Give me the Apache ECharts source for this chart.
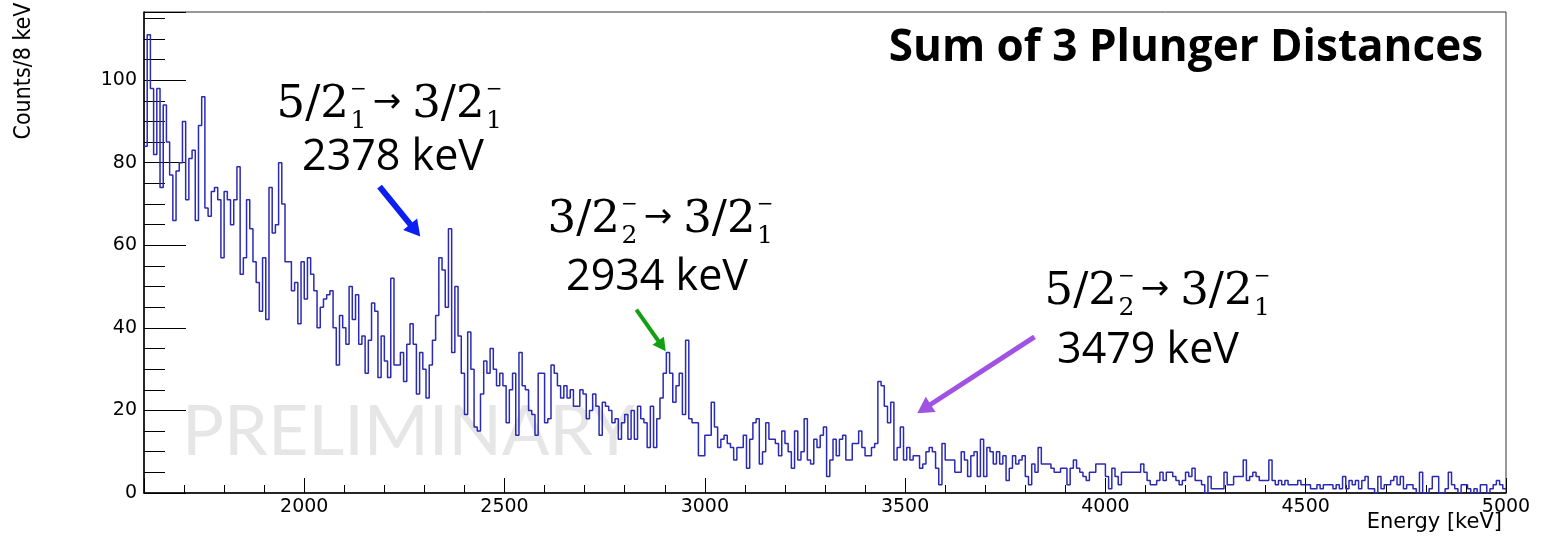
<!DOCTYPE html>
<html>
<head>
<meta charset="utf-8">
<title>Sum of 3 Plunger Distances</title>
<script src="https://cdn.jsdelivr.net/npm/echarts@6/dist/echarts.min.js"></script>
<style>
  html, body { margin: 0; padding: 0; background: #fff; }
  #chart { width: 1542px; height: 536px; }
</style>
</head>
<body>
<div id="chart"></div>
<script>
// Histogram binning (keV)
var binStart = 1600;
var binWidth = 8;
var energyMax = 5000;
var countsMax = 116.5;

// Counts/8 keV, one value per bin from 1600 keV up to 5000 keV
var counts = [
  84, 111, 98, 82, 98, 74, 94, 85, 77, 66,
  78, 80, 90, 71, 81, 83, 66, 89, 96, 69,
  67, 73, 74, 71, 57, 73, 71, 65, 71, 79,
  53, 57, 71, 64, 56, 51, 44, 57, 42, 74,
  63, 65, 80, 70, 56, 56, 49, 51, 41, 56,
  47, 57, 53, 49, 40, 45, 47, 48, 49, 40,
  31, 43, 40, 36, 50, 42, 48, 36, 38, 29,
  37, 46, 44, 28, 38, 32, 28, 52, 31, 31,
  34, 27, 36, 41, 36, 24, 34, 30, 23, 31,
  37, 43, 57, 54, 45, 64, 34, 50, 38, 29,
  19, 39, 30, 16, 15, 24, 32, 29, 35, 30,
  26, 29, 26, 17, 25, 29, 14, 34, 26, 25,
  20, 19, 14, 29, 29, 17, 18, 31, 29, 26,
  23, 26, 23, 25, 21, 21, 25, 24, 18, 20,
  24, 21, 14, 22, 21, 20, 17, 18, 13, 17,
  19, 13, 20, 13, 21, 18, 17, 11, 21, 11,
  18, 23, 29, 34, 29, 22, 26, 29, 19, 37,
  18, 17, 17, 9, 9, 14, 14, 22, 16, 11,
  13, 14, 12, 11, 8, 11, 11, 14, 6, 13,
  17, 18, 7, 10, 17, 13, 13, 12, 9, 15,
  12, 10, 6, 15, 8, 10, 18, 8, 7, 13,
  11, 14, 16, 4, 8, 13, 9, 13, 14, 8,
  8, 12, 12, 15, 11, 9, 9, 11, 12, 27,
  26, 21, 17, 22, 8, 11, 16, 8, 11, 8,
  9, 9, 6, 7, 10, 11, 10, 6, 2, 12,
  8, 8, 8, 5, 5, 10, 8, 4, 9, 10,
  4, 13, 4, 11, 10, 7, 10, 7, 9, 3,
  6, 9, 7, 8, 9, 4, 2, 7, 5, 11,
  7, 7, 7, 6, 5, 5, 6, 6, 2, 6,
  8, 6, 5, 4, 3, 5, 5, 7, 7, 7,
  4, 1, 6, 4, 2, 5, 5, 5, 5, 5,
  5, 7, 5, 3, 2, 2, 3, 5, 3, 5,
  5, 4, 3, 2, 3, 5, 4, 6, 3, 3,
  2, 0, 4, 1, 1, 1, 1, 5, 2, 2,
  4, 4, 4, 8, 3, 4, 5, 4, 3, 3,
  3, 8, 3, 2, 3, 2, 3, 2, 2, 2,
  3, 2, 2, 2, 1, 1, 2, 1, 2, 2,
  2, 1, 2, 1, 4, 1, 3, 2, 3, 1,
  3, 4, 1, 1, 0, 4, 1, 2, 2, 3,
  4, 2, 4, 1, 2, 2, 1, 0, 5, 0,
  0, 1, 4, 4, 0, 0, 1, 5, 2, 1,
  0, 2, 2, 1, 0, 1, 0, 2, 2, 0,
  1, 2, 3, 2, 1
];

// Tick steps
var xMinorStep = 100;
var xMajorStep = 500;
var yMinorStep = 5;
var yMajorStep = 20;

// Transition labels (initial state, subscript) -> (final state, subscript)
var transInitial = [['5/2', '1'], ['3/2', '2'], ['5/2', '2']];
var transFinal = [['3/2', '1'], ['3/2', '1'], ['3/2', '1']];
var transEnergy = ['2378 keV', '2934 keV', '3479 keV'];

// Arrows pointing at the peaks, in data coordinates [keV, counts]
var arrowTails = [[2188, 74.2], [2829, 44.4], [3823, 37.8]];
var arrowHeads = [[2277, 63.6], [2893, 35.6], [3547, 20.4]];
var arrowColors = ['#0b1ff2', '#12a012', '#a052e2'];

// ---- layout (pixels) ----
var formulaAnchors = [[390, 120], [661, 235], [1158, 307]];   // centre x, baseline y
var energyAnchors = [[393, 158], [657, 278], [1148, 351]];    // centre x, middle y
var arrowWidths = [6, 4, 5];
var arrowHeadSizes = [[18, 16], [14, 13], [18, 16]];

var MATH = '"DejaVu Serif", serif';
var SANS = '"DejaVu Sans", sans-serif';
var mainFont = '45px ' + MATH;
var scriptFont = '25px ' + MATH;
var minusFont = '20px ' + MATH;
var arrowFont = '34px ' + SANS;
var energyFont = '43px "Open Sans", sans-serif';

var measureCtx = document.createElement('canvas').getContext('2d');
function textWidth(str, font) {
  measureCtx.font = font;
  return measureCtx.measureText(str).width;
}

function textEl(text, x, y, font, align, fill) {
  align = align || 'left';
  return {
    type: 'text', z: 10, silent: true,
    style: {
      text: text, x: x, y: y, font: font, fill: fill || '#000',
      align: align, verticalAlign: 'middle',
      textAlign: align, textVerticalAlign: 'middle'
    }
  };
}

// "5/2_1^- -> 3/2_1^-" with stacked sub/superscripts
function transitionElements(initial, final, cx, base) {
  var scriptW = function (s) {
    return Math.max(textWidth(s, scriptFont), textWidth('\u2212', minusFont)) + 2;
  };
  var parts = [
    { kind: 'main', t: initial[0], w: textWidth(initial[0], mainFont) },
    { kind: 'script', t: initial[1], w: scriptW(initial[1]) },
    { kind: 'arrow', t: '\u2192', w: textWidth('\u2192', arrowFont) + 16 },
    { kind: 'main', t: final[0], w: textWidth(final[0], mainFont) },
    { kind: 'script', t: final[1], w: scriptW(final[1]) }
  ];
  var total = parts.reduce(function (s, p) { return s + p.w; }, 0);
  var x = cx - total / 2;
  var els = [];
  parts.forEach(function (p) {
    if (p.kind === 'main') {
      els.push(textEl(p.t, x, base - 15, mainFont));
    } else if (p.kind === 'script') {
      els.push(textEl(p.t, x + p.w / 2, base + 1, scriptFont, 'center'));
      els.push(textEl('\u2212', x + p.w / 2, base - 30, minusFont, 'center'));
    } else {
      els.push(textEl(p.t, x + 5, base - 17, arrowFont));
    }
    x += p.w;
  });
  return els;
}

var graphicEls = [
  {
    type: 'text', z: 1, silent: true,
    style: {
      text: 'PRELIMINARY', x: 182, y: 432, font: '70px Lato, sans-serif', fill: '#e6e6e6',
      align: 'left', verticalAlign: 'middle', textAlign: 'left', textVerticalAlign: 'middle'
    }
  },
  {
    type: 'text', z: 10, silent: true, rotation: Math.PI / 2, x: 24, y: 71,
    style: {
      text: 'Counts/8 keV', x: 0, y: 0,
      font: '23px "Liberation Sans Narrow", "DejaVu Sans Condensed", sans-serif', fill: '#000',
      align: 'center', verticalAlign: 'middle', textAlign: 'center', textVerticalAlign: 'middle'
    }
  },
  // x axis title, ROOT style: right-aligned under the tick labels
  textEl('Energy [keV]', 1502, 523, '21px "DejaVu Sans", sans-serif', 'right')
];
for (var i = 0; i < transEnergy.length; i++) {
  graphicEls = graphicEls.concat(
    transitionElements(transInitial[i], transFinal[i], formulaAnchors[i][0], formulaAnchors[i][1])
  );
  graphicEls.push(textEl(transEnergy[i], energyAnchors[i][0], energyAnchors[i][1], energyFont, 'center'));
}

// Step histogram points at the low edge of each bin, plus the closing edge
var histData = counts.map(function (c, k) { return [binStart + k * binWidth, c]; });
histData.push([binStart + counts.length * binWidth, counts[counts.length - 1]]);

var arrowLines = arrowTails.map(function (tail, k) {
  return [
    { coord: tail, symbol: 'none', lineStyle: { color: arrowColors[k], width: arrowWidths[k], type: 'solid' } },
    { coord: arrowHeads[k], symbol: 'triangle', symbolSize: arrowHeadSizes[k] }
  ];
});

var labelFont = { fontFamily: 'DejaVu Sans', fontSize: 19, color: '#000' };

var chart = echarts.init(document.getElementById('chart'));

var option = {
  animation: false,
  backgroundColor: '#fff',
  title: {
    text: 'Sum of 3 Plunger Distances',
    right: 54, top: 16, padding: 5,
    textStyle: { fontFamily: '"Open Sans"', fontWeight: 'bold', fontSize: 44, lineHeight: 54, color: '#000' }
  },
  grid: {
    left: 144, right: 36, top: 12, bottom: 43,
    outerBoundsMode: 'none',
    containLabel: false,
    show: true, borderColor: '#333', borderWidth: 1, backgroundColor: 'transparent'
  },
  xAxis: [
    {
      // minor ticks every 100 keV
      type: 'value', min: binStart, max: energyMax, interval: xMinorStep, position: 'bottom',
      axisLine: { show: true, onZero: false, lineStyle: { color: '#000', width: 1.5 } },
      axisTick: { inside: true, length: 8, lineStyle: { color: '#000' } },
      axisLabel: { show: false },
      splitLine: { show: false }
    },
    {
      // major ticks and labels every 500 keV
      type: 'value', min: binStart, max: energyMax,
      minInterval: xMajorStep, maxInterval: xMajorStep, position: 'bottom',
      axisLine: { show: false, onZero: false },
      axisTick: { inside: true, length: 15, lineStyle: { color: '#000' } },
      axisLabel: Object.assign({
        margin: 5,
        formatter: function (v) { return v % xMajorStep === 0 ? String(v) : ''; }
      }, labelFont),
      splitLine: { show: false }
    }
  ],
  yAxis: [
    {
      type: 'value', min: 0, max: countsMax, interval: yMinorStep, position: 'left',
      axisLine: { show: true, onZero: false, lineStyle: { color: '#000', width: 1.5 } },
      axisTick: { inside: true, length: 21, lineStyle: { color: '#000' } },
      axisLabel: { show: false },
      splitLine: { show: false }
    },
    {
      type: 'value', min: 0, max: countsMax, interval: yMajorStep, position: 'left',
      axisLine: { show: false, onZero: false },
      axisTick: { inside: true, length: 42, lineStyle: { color: '#000' } },
      axisLabel: Object.assign({
        margin: 7,
        formatter: function (v) { return v % yMajorStep === 0 ? String(v) : ''; }
      }, labelFont),
      splitLine: { show: false }
    }
  ],
  graphic: { elements: graphicEls },
  series: [{
    name: 'Counts',
    type: 'line',
    xAxisIndex: 0,
    yAxisIndex: 0,
    step: 'end',
    symbol: 'none',
    z: 3,
    data: histData,
    lineStyle: { color: '#2a2ab4', width: 1.5 },
    markLine: {
      silent: true,
      animation: false,
      label: { show: false },
      lineStyle: { type: 'solid' },
      data: arrowLines
    }
  }]
};

chart.setOption(option);

window.addEventListener('resize', function () {
  chart.resize();
});
</script>
</body>
</html>
